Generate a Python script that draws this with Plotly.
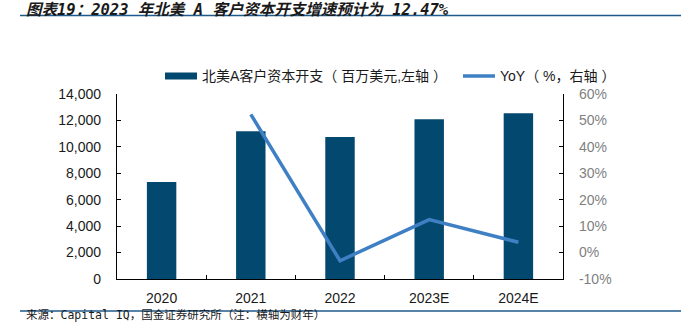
import plotly.graph_objects as go

categories = ["2020", "2021", "2022", "2023E", "2024E"]
capex = [7350, 11190, 10740, 12080, 12550]
yoy_categories = ["2021", "2022", "2023E", "2024E"]
yoy = [52.3, -3.1, 12.47, 3.9]
left_ticks = [0, 2000, 4000, 6000, 8000, 10000, 12000, 14000]
right_ticks = [-10, 0, 10, 20, 30, 40, 50, 60]
right_labels = ["-10%", "0%", "10%", "20%", "30%", "40%", "50%", "60%"]

W, H = 686, 323
L, R, T, B = 117, 123, 94, 44

def px(x):
    return (x - L) / (W - L - R)

def py(y):
    return (H - B - y) / (H - T - B)

BAR = "#03496f"
LINE = "#3f80c4"
RULE = "#1f5a8c"

fig = go.Figure()
fig.add_trace(go.Bar(x=categories, y=capex, marker=dict(color=BAR, line=dict(width=0)),
                     name="北美A客户资本开支（百万美元,左轴）", yaxis="y"))
fig.add_trace(go.Scatter(x=yoy_categories, y=yoy, mode="lines", line=dict(color=LINE, width=3.5),
                         name="YoY（%，右轴）", yaxis="y2"))

axis_font = dict(family="Liberation Sans, Arial", size=14, color="#1a1a1a")

fig.update_layout(
    width=W, height=H,
    margin=dict(l=L, r=R, t=T, b=B),
    paper_bgcolor="white", plot_bgcolor="white",
    showlegend=False,
    bargap=0.67,
    xaxis=dict(type="category", showline=True, linecolor="#000", linewidth=1.2,
               ticks="inside", tickson="boundaries", ticklen=4, tickcolor="#000",
               tickfont=axis_font, showgrid=False, ticklabelstandoff=6, fixedrange=True),
    yaxis=dict(range=[0, 14000], tickvals=left_ticks, tickformat=",d", showline=True,
               linecolor="#000", linewidth=1.2, ticks="inside", ticklen=4, tickcolor="#000",
               tickfont=axis_font, showgrid=False, zeroline=False, ticklabelstandoff=12),
    yaxis2=dict(range=[-10, 60], tickmode="array", tickvals=right_ticks, ticktext=right_labels,
                overlaying="y", side="right",
                showline=True, linecolor="#000", linewidth=1.2, ticks="inside", ticklen=4,
                tickcolor="#000", tickfont=dict(family="Liberation Sans, Arial", size=14, color="#7f7f7f"),
                showgrid=False, zeroline=False, ticklabelstandoff=12),
)

shapes = []
annotations = []
# title + rule
annotations.append(dict(xref="paper", yref="paper", x=px(25), y=py(0), xanchor="left", yanchor="top",
                        borderpad=0,
                        text="<b><i>图表19：2023 年北美 A 客户资本开支增速预计为 12.47%</i></b>",
                        showarrow=False,
                        font=dict(family="DejaVu Sans Mono, Noto Sans CJK SC", size=15.5, color="#1a1a1a")))
shapes.append(dict(type="line", xref="paper", yref="paper", x0=px(20), x1=px(681), y0=py(15.5), y1=py(15.5),
                   line=dict(color=RULE, width=1.5)))
# source + rule
shapes.append(dict(type="line", xref="paper", yref="paper", x0=px(20), x1=px(681), y0=py(311), y1=py(311),
                   line=dict(color=RULE, width=1.5)))
annotations.append(dict(xref="paper", yref="paper", x=px(25), y=py(323), xanchor="left", yanchor="bottom",
                        borderpad=0,
                        text="来源：Capital IQ，国金证券研究所（注：横轴为财年）", showarrow=False,
                        font=dict(family="DejaVu Sans Mono, Noto Sans CJK SC", size=11.5, color="#1a1a1a")))
# legend
shapes.append(dict(type="rect", xref="paper", yref="paper", x0=px(165), x1=px(197), y0=py(72.5), y1=py(79.5),
                   fillcolor=BAR, line=dict(width=0)))
annotations.append(dict(xref="paper", yref="paper", x=px(200), y=py(76), xanchor="left", yanchor="middle",
                        text="北美A客户资本开支（ 百万美元,左轴 ）", showarrow=False,
                        font=dict(family="Liberation Sans, Noto Sans CJK SC", size=14, color="#1a1a1a")))
shapes.append(dict(type="line", xref="paper", yref="paper", x0=px(463), x1=px(495), y0=py(76), y1=py(76),
                   line=dict(color=LINE, width=3.5)))
annotations.append(dict(xref="paper", yref="paper", x=px(498), y=py(76), xanchor="left", yanchor="middle",
                        text="YoY（ %，右轴 ）", showarrow=False,
                        font=dict(family="Liberation Sans, Noto Sans CJK SC", size=14, color="#1a1a1a")))

fig.update_layout(shapes=shapes, annotations=annotations)
fig.write_html("out.html")
